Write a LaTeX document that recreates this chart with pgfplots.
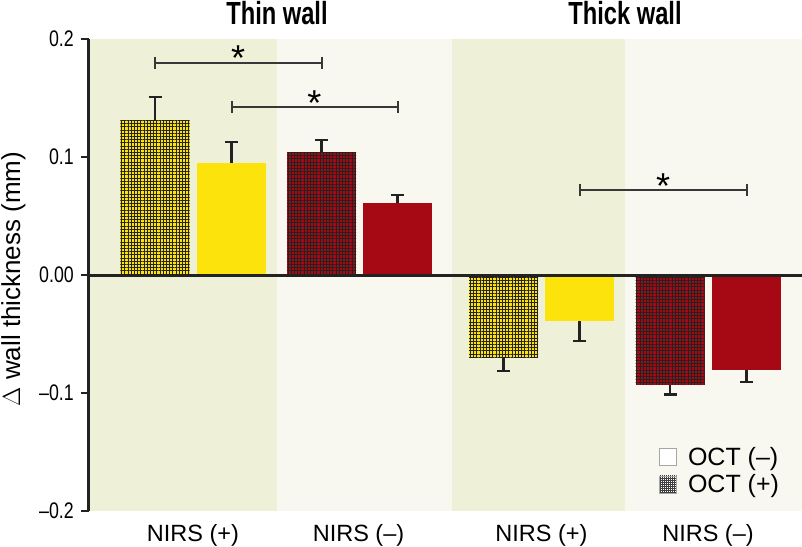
\documentclass[border=0pt]{standalone}
\usepackage{fontspec}
\setmainfont{Liberation Sans}
\usepackage{graphicx}
\usepackage{pgfplots}
\pgfplotsset{compat=1.18}
\usetikzlibrary{patterns.meta}
\definecolor{bandA}{RGB}{238,240,216}
\definecolor{bandB}{RGB}{248,248,240}
\definecolor{yel}{RGB}{252,227,11}
\definecolor{redd}{RGB}{166,8,20}
\definecolor{dk}{RGB}{34,34,34}
\pgfplotsset{
  barbase/.style={ybar, bar width=69, bar shift=0pt, draw=none, forget plot},
  hatch/.style={postaction={pattern={Hatch[angle=0,distance=3.2pt,line width=0.95pt]}, pattern color=dk}},
  errup/.style={error bars/.cd, y dir=plus, y explicit,
     error bar style={line width=2.2pt, dk},
     error mark options={rotate=90, line width=2.2pt, dk, mark size=6.5pt}},
  errdn/.style={error bars/.cd, y dir=minus, y explicit,
     error bar style={line width=2.2pt, dk},
     error mark options={rotate=90, line width=2.2pt, dk, mark size=6.5pt}},
}
\begin{document}
\begin{tikzpicture}
\useasboundingbox (-89pt,-35pt) rectangle (713pt,511pt);
\begin{axis}[
  scale only axis, width=713pt, height=472pt,
  xmin=0, xmax=713, ymin=-0.2, ymax=0.2,
  clip=false, axis on top,
  axis x line*=bottom, axis y line*=left,
  x axis line style={draw=none},
  y axis line style={line width=3pt, color=dk},
  tick align=outside, major tick length=8pt,
  xtick={104,269.5,452.5,619},
  xticklabels={NIRS (+),NIRS (–),NIRS (+),NIRS (–)},
  xtick style={draw=none},
  xticklabel style={font=\fontsize{23.5}{28}\selectfont, anchor=base, inner sep=0pt, yshift=-22pt},
  ytick={-0.2,-0.1,0,0.1,0.2},
  yticklabels={\scalebox{0.79}[1]{–0.2},\scalebox{0.79}[1]{–0.1},\scalebox{0.79}[1]{0.00},\scalebox{0.79}[1]{0.1},\scalebox{0.79}[1]{0.2}},
  ytick style={line width=2pt, color=dk},
  yticklabel style={font=\fontsize{22.5}{26}\selectfont, anchor=east, inner sep=0pt, xshift=-7pt},
  ylabel={$\Delta$ wall thickness (mm)},
  every axis y label/.style={at={(axis description cs:-0.1234,0.4915)}, rotate=90, anchor=north, font=\fontsize{26}{30}\selectfont, inner sep=0pt},
  legend style={at={(axis cs:570,-0.1458)}, anchor=north west, draw=none, fill=none, inner sep=0pt,
     row sep=8pt, column sep=11pt, font=\fontsize{25}{30}\selectfont, nodes={inner sep=0pt}, cells={anchor=base west}},
  legend image code/.code={\draw[#1] (0pt,0pt) rectangle (17pt,17pt);},
]
% background bands
\addplot[fill=bandA, draw=none, forget plot] coordinates {(0,-0.2) (0,0.2) (188,0.2) (188,-0.2)} -- cycle;
\addplot[fill=bandB, draw=none, forget plot] coordinates {(188,-0.2) (188,0.2) (362.5,0.2) (362.5,-0.2)} -- cycle;
\addplot[fill=bandA, draw=none, forget plot] coordinates {(362.5,-0.2) (362.5,0.2) (536,0.2) (536,-0.2)} -- cycle;
\addplot[fill=bandB, draw=none, forget plot] coordinates {(536,-0.2) (536,0.2) (713,0.2) (713,-0.2)} -- cycle;
% Thin wall (positive)
\addplot[barbase, fill=yel, hatch, errup] coordinates {(66,0.131) +- (0,0.020)};
\addplot[barbase, fill=yel, errup] coordinates {(142.5,0.095) +- (0,0.0175)};
\addplot[barbase, fill=redd, hatch, errup] coordinates {(232.5,0.104) +- (0,0.0107)};
\addplot[barbase, fill=redd, errup] coordinates {(308.5,0.061) +- (0,0.0071)};
% Thick wall (negative)
\addplot[barbase, fill=yel, hatch, errdn] coordinates {(414.5,-0.0695) +- (0,0.0118)};
\addplot[barbase, fill=yel, errdn] coordinates {(490.5,-0.039) +- (0,0.0168)};
\addplot[barbase, fill=redd, hatch, errdn] coordinates {(581,-0.093) +- (0,0.0082)};
\addplot[barbase, fill=redd, errdn] coordinates {(657.5,-0.0807) +- (0,0.0102)};
% zero line
\addplot[line width=3pt, color=dk, forget plot] coordinates {(0,0) (713,0)};
% significance brackets
\addplot[line width=2pt, color=dk!90, mark=|, mark size=6pt, mark options={line width=2pt}, forget plot] coordinates {(66,0.180) (232.5,0.180)};
\addplot[line width=2pt, color=dk!90, mark=|, mark size=6pt, mark options={line width=2pt}, forget plot] coordinates {(142.5,0.142) (308.5,0.142)};
\addplot[line width=2pt, color=dk!90, mark=|, mark size=6pt, mark options={line width=2pt}, forget plot] coordinates {(490.5,0.072) (657.5,0.072)};
\node[font=\fontsize{36}{40}\selectfont, anchor=base, yshift=-8pt] at (axis cs:149.25,0.180) {*};
\node[font=\fontsize{36}{40}\selectfont, anchor=base, yshift=-8pt] at (axis cs:225.5,0.142) {*};
\node[font=\fontsize{36}{40}\selectfont, anchor=base, yshift=-8pt] at (axis cs:574,0.072) {*};
% titles
\node[anchor=base, font=\fontsize{32}{36}\selectfont\bfseries, yshift=14pt, inner sep=0pt] at (axis cs:188,0.2) {\scalebox{0.74}[1]{Thin wall}};
\node[anchor=base, font=\fontsize{32}{36}\selectfont\bfseries, yshift=14pt, inner sep=0pt] at (axis cs:536,0.2) {\scalebox{0.74}[1]{Thick wall}};
% legend
\addlegendimage{draw=gray!70, fill=white, line width=0.8pt}
\addlegendentry{OCT (–)}
\addlegendimage{draw=gray!70, fill=white, line width=0.8pt, postaction={pattern={Hatch[angle=0,distance=2pt,line width=0.7pt]}, pattern color=black!75}}
\addlegendentry{OCT (+)}
\end{axis}
\end{tikzpicture}
\end{document}
